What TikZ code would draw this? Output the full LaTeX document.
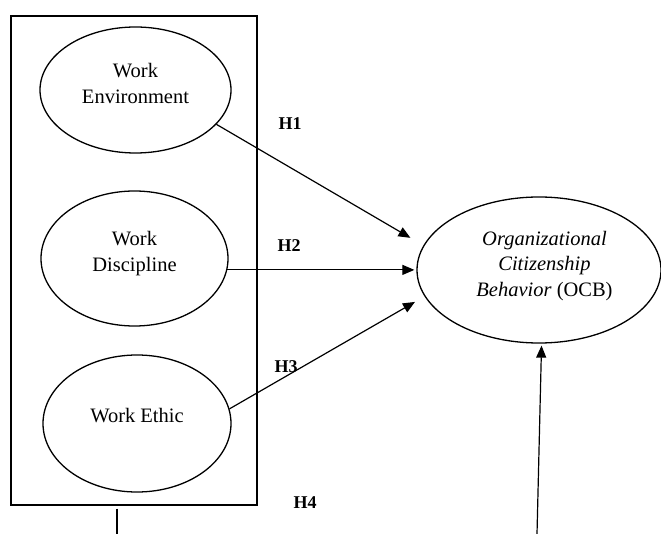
\documentclass[tikz,border=0pt]{standalone}
\usepackage{fontspec}
\setmainfont{Liberation Serif}
\usetikzlibrary{shapes.geometric,arrows.meta,calc}
\begin{document}
\begin{tikzpicture}[x=1pt,y=-1pt,
  ell/.style={draw, ellipse, line width=1.3pt, inner sep=0pt},
  lbl/.style={font=\fontsize{20.5}{26}\selectfont, align=center, inner sep=0pt},
  hyp/.style={font=\fontsize{18}{20}\selectfont\bfseries, inner sep=0pt},
  arr/.style={line width=1.2pt, -{Triangle[length=12pt,width=10pt]}}]
\useasboundingbox (0,0) rectangle (661,534);
\node[draw, line width=1.4pt, minimum width=246pt, minimum height=489pt, inner sep=0pt] (box) at (134,260.5) {};
\node[ell, minimum width=191pt, minimum height=126pt] (e1) at (135.5,90) {};
\node[ell, minimum width=187pt, minimum height=135pt] (e2) at (134.5,258.5) {};
\node[ell, minimum width=188pt, minimum height=137pt] (e3) at (137,423.5) {};
\node[ell, minimum width=244pt, minimum height=146pt] (ocb) at (539,270) {};
\node[lbl] (t1) at (135.5,83) {Work\\Environment};
\node[lbl] (t2) at (134.5,254) {Work\\Discipline};
\node[lbl] (t3) at (137,415.5) {Work Ethic};
\node[lbl, font=\fontsize{20.5}{25.5}\selectfont] (t4) at (544.5,266) {\textit{Organizational}\\\textit{Citizenship}\\\textit{Behavior} (OCB)};
\coordinate (h2s) at (e2.-7.75);
\coordinate (h4s) at (537,534);
\coordinate (bl) at (117,534);
\draw[arr, shorten >=15pt] (e1.-23) -- (ocb.168.4);
\draw[arr, shorten >=2pt] (h2s) -- (h2s -| ocb.west);
\draw[arr, shorten >=11pt] (e3.9) -- (ocb.193.6);
\draw[arr, shorten >=2pt] (h4s) -- (ocb.-88);
\draw[line width=1.2pt, shorten <=3pt] (box.south -| bl) -- (bl);
\node[hyp] (h1) at (290,124) {H1};
\node[hyp] (h2) at (289,246) {H2};
\node[hyp] (h3) at (286,367) {H3};
\node[hyp] (h4) at (305,503) {H4};
\end{tikzpicture}
\end{document}
